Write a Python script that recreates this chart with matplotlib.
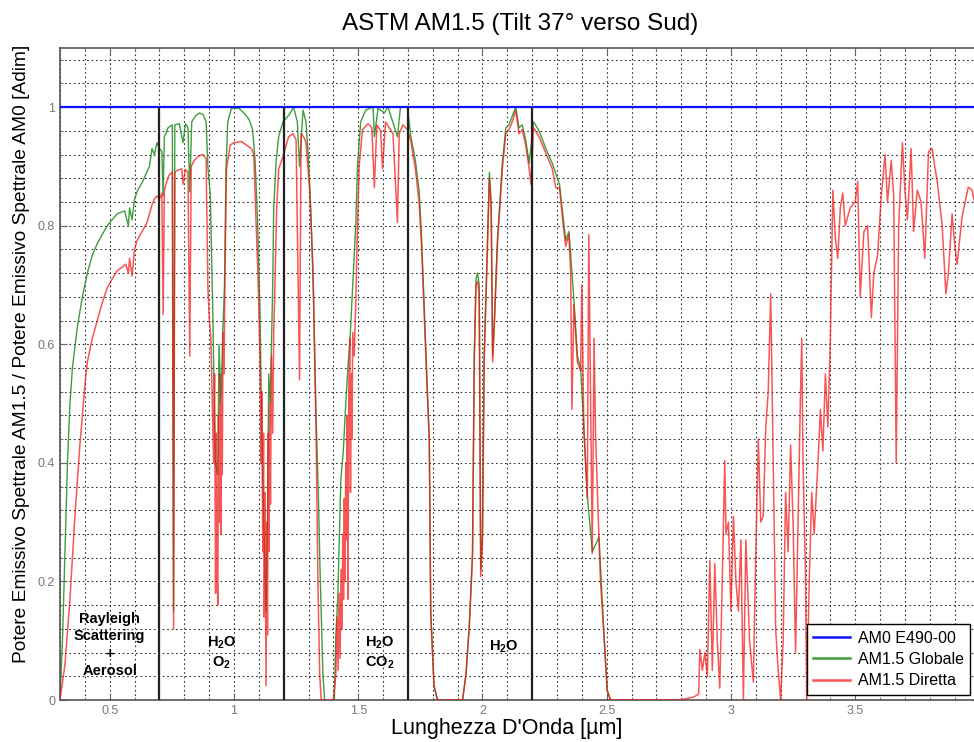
import matplotlib
matplotlib.use("Agg")
import matplotlib.pyplot as plt
from matplotlib.ticker import MultipleLocator

plt.rcParams['font.family'] = ['Liberation Sans', 'DejaVu Sans']
plt.rcParams['mathtext.fontset'] = 'custom'
plt.rcParams['mathtext.rm'] = 'Liberation Sans'
plt.rcParams['mathtext.bf'] = 'Liberation Sans:bold'

# AM1.5 direct / AM0
wl_dir = [0.30, 0.32, 0.34, 0.36, 0.38, 0.40, 0.41, 0.43, 0.45, 0.47, 0.49, 0.51, 0.53, 0.55,
          0.565, 0.575, 0.58, 0.59, 0.60, 0.61, 0.63, 0.65, 0.66, 0.67, 0.68, 0.69, 0.70, 0.71,
          0.715, 0.72, 0.73, 0.74, 0.752, 0.757, 0.762, 0.77, 0.79, 0.795, 0.805, 0.815, 0.822,
          0.828, 0.84, 0.86, 0.875, 0.888, 0.895, 0.90, 0.907,
          0.912, 0.918, 0.922, 0.926, 0.929, 0.932, 0.935, 0.938, 0.941, 0.944, 0.947, 0.950,
          0.953, 0.956, 0.960, 0.964,
          0.97, 0.985, 1.0, 1.03, 1.05, 1.07, 1.08, 1.087, 1.098,
          1.105, 1.109, 1.112, 1.116, 1.119, 1.122, 1.125, 1.129, 1.132, 1.135, 1.138, 1.141,
          1.144, 1.147, 1.151, 1.156, 1.16, 1.165,
          1.172, 1.18, 1.197, 1.22, 1.237, 1.25,
          1.264, 1.27, 1.28, 1.29, 1.304, 1.318, 1.331, 1.338, 1.345, 1.351, 1.40,
          1.41, 1.415, 1.419, 1.423, 1.427, 1.431, 1.435, 1.438, 1.441, 1.444, 1.447, 1.45,
          1.453, 1.456, 1.459, 1.462, 1.466, 1.469, 1.472, 1.475, 1.478, 1.484, 1.49,
          1.497, 1.504,
          1.517, 1.54, 1.555, 1.565, 1.575, 1.59, 1.598, 1.61, 1.625, 1.64, 1.658, 1.665, 1.68,
          1.698, 1.712, 1.73, 1.745, 1.755, 1.773, 1.786, 1.792, 1.805, 1.819, 1.92, 1.934, 1.947,
          1.96, 1.967, 1.974, 1.98, 1.987, 1.993, 2.0, 2.007, 2.02, 2.028, 2.035, 2.041, 2.048,
          2.054, 2.06, 2.08, 2.094, 2.107, 2.12, 2.134, 2.147, 2.16, 2.174, 2.188, 2.195, 2.206,
          2.228, 2.255, 2.281, 2.295, 2.31, 2.324, 2.335, 2.348, 2.355, 2.36, 2.368, 2.382, 2.395,
          2.40, 2.408, 2.422, 2.428, 2.442, 2.449, 2.455, 2.469, 2.475, 2.489, 2.502]
dir_vals = [0.0, 0.06, 0.17, 0.31, 0.43, 0.53, 0.57, 0.61, 0.64, 0.67, 0.695, 0.71, 0.724, 0.73,
            0.735, 0.72, 0.745, 0.715, 0.76, 0.775, 0.79, 0.805, 0.82, 0.835, 0.845, 0.85, 0.845, 0.855,
            0.65, 0.86, 0.875, 0.886, 0.89, 0.12, 0.89, 0.893, 0.896, 0.87, 0.895, 0.89, 0.58,
            0.90, 0.91, 0.918, 0.92, 0.913, 0.70, 0.647, 0.61,
            0.52, 0.40, 0.55, 0.18, 0.45, 0.22, 0.16, 0.48, 0.30, 0.55, 0.28, 0.50,
            0.38, 0.62, 0.55, 0.72,
            0.896, 0.936, 0.94, 0.942, 0.936, 0.93, 0.92, 0.83, 0.70,
            0.57, 0.40, 0.52, 0.25, 0.45, 0.14, 0.35, 0.024, 0.30, 0.11, 0.45, 0.25,
            0.50, 0.33, 0.58, 0.45, 0.62, 0.70,
            0.83, 0.896, 0.916, 0.95, 0.955, 0.945,
            0.54, 0.955, 0.95, 0.94, 0.864, 0.73, 0.44, 0.195, 0.044, 0.0, 0.0,
            0.044, 0.14, 0.05, 0.18, 0.07, 0.22, 0.12, 0.28, 0.17, 0.34, 0.20, 0.40,
            0.27, 0.48, 0.17, 0.52, 0.61, 0.35, 0.55, 0.44, 0.62, 0.58, 0.667,
            0.80, 0.90,
            0.962, 0.972, 0.965, 0.864, 0.97, 0.96, 0.896, 0.975, 0.965, 0.955, 0.805, 0.955, 0.97,
            0.962, 0.942, 0.896, 0.84, 0.765, 0.57, 0.437, 0.142, 0.024, 0.0, 0.0, 0.044, 0.123,
            0.24, 0.57, 0.70, 0.706, 0.686, 0.208, 0.27, 0.57, 0.765, 0.88, 0.83, 0.57, 0.634,
            0.70, 0.765, 0.896, 0.955, 0.962, 0.975, 0.995, 0.955, 0.962, 0.936, 0.896, 0.87, 0.965,
            0.95, 0.922, 0.896, 0.864, 0.864, 0.805, 0.765, 0.785, 0.72, 0.49, 0.667, 0.57, 0.555,
            0.70, 0.457, 0.34, 0.785, 0.247, 0.61, 0.45, 0.27, 0.20, 0.11, 0.016]

# AM1.5 global / AM0
wl_glo = [0.30, 0.31, 0.32, 0.33, 0.34, 0.35, 0.37, 0.39, 0.41, 0.43, 0.45, 0.47, 0.49, 0.51,
          0.53, 0.56, 0.575, 0.58, 0.59, 0.60, 0.613, 0.633, 0.66, 0.67, 0.68, 0.69, 0.70, 0.71,
          0.715, 0.72, 0.735, 0.752, 0.757, 0.762, 0.78, 0.795, 0.805, 0.815, 0.822, 0.83, 0.845,
          0.86, 0.875, 0.888, 0.895, 0.905, 0.915, 0.925, 0.935, 0.94, 0.948, 0.955, 0.962, 0.968,
          0.975, 0.99, 1.02, 1.04, 1.06, 1.075, 1.085, 1.095, 1.105, 1.112, 1.12, 1.129, 1.135,
          1.14, 1.146, 1.156, 1.16, 1.17, 1.18, 1.197, 1.224, 1.24, 1.255, 1.264, 1.278, 1.29,
          1.30, 1.31, 1.32, 1.331, 1.34, 1.347, 1.358, 1.365, 1.404, 1.41, 1.418, 1.43, 1.44,
          1.45, 1.46, 1.466, 1.478, 1.49, 1.497, 1.51, 1.53, 1.56, 1.565, 1.58, 1.605, 1.62,
          1.658, 1.67, 1.698, 1.712, 1.73, 1.745, 1.755, 1.773, 1.786, 1.792, 1.805, 1.819, 1.92,
          1.934, 1.947, 1.96, 1.967, 1.974, 1.98, 1.987, 1.993, 2.0, 2.007, 2.02, 2.028, 2.035,
          2.041, 2.048, 2.054, 2.06, 2.08, 2.094, 2.107, 2.12, 2.134, 2.147, 2.16, 2.174, 2.188,
          2.206, 2.228, 2.255, 2.281, 2.31, 2.335, 2.348, 2.368, 2.382, 2.395, 2.408, 2.422,
          2.442, 2.469, 2.489, 2.502, 2.515]
glo_vals = [0.0, 0.10, 0.25, 0.40, 0.50, 0.56, 0.63, 0.68, 0.72, 0.75, 0.77, 0.785, 0.80, 0.81,
            0.82, 0.825, 0.80, 0.83, 0.81, 0.845, 0.86, 0.875, 0.90, 0.93, 0.92, 0.94, 0.93, 0.925,
            0.85, 0.95, 0.965, 0.97, 0.15, 0.97, 0.972, 0.94, 0.972, 0.965, 0.857, 0.975, 0.985,
            0.99, 0.988, 0.975, 0.90, 0.85, 0.65, 0.40, 0.38, 0.60, 0.50, 0.62, 0.70, 0.896,
            0.975, 0.998, 0.998, 0.99, 0.98, 0.962, 0.91, 0.81, 0.65, 0.45, 0.30, 0.15, 0.30,
            0.55, 0.50, 0.70, 0.83, 0.91, 0.95, 0.975, 0.988, 1.0, 0.975, 0.90, 0.995, 0.975,
            0.91, 0.82, 0.68, 0.47, 0.34, 0.21, 0.044, 0.0, 0.0, 0.11, 0.175, 0.37, 0.42,
            0.50, 0.57, 0.60, 0.70, 0.80, 0.90, 0.975, 0.995, 1.0, 0.95, 0.998, 0.99, 1.0,
            0.95, 1.0, 1.0, 0.95, 0.91, 0.86, 0.78, 0.58, 0.44, 0.15, 0.025, 0.0, 0.0,
            0.045, 0.125, 0.25, 0.58, 0.71, 0.72, 0.70, 0.22, 0.28, 0.58, 0.775, 0.89, 0.84,
            0.58, 0.64, 0.71, 0.775, 0.905, 0.965, 0.97, 0.985, 1.0, 0.965, 0.97, 0.945, 0.905,
            0.975, 0.96, 0.93, 0.905, 0.87, 0.775, 0.79, 0.675, 0.58, 0.56, 0.46, 0.345,
            0.25, 0.275, 0.11, 0.016, 0.0]

# infrared part, where direct and global coincide (only the direct one shows)
wl_ir = [2.515, 2.70, 2.79, 2.85, 2.87, 2.875, 2.885, 2.895, 2.905, 2.915, 2.925, 2.935, 2.945,
         2.955, 2.965, 2.975, 2.98, 2.99, 3.0, 3.01, 3.02, 3.03, 3.04, 3.05, 3.06, 3.075, 3.09,
         3.10, 3.11, 3.12, 3.13, 3.14, 3.15, 3.16, 3.17, 3.18, 3.19, 3.20, 3.21, 3.22, 3.23, 3.24,
         3.25, 3.26, 3.27, 3.28, 3.285, 3.29, 3.30, 3.305, 3.315, 3.325, 3.335, 3.35, 3.36, 3.37,
         3.38, 3.39, 3.40, 3.41, 3.42, 3.43, 3.44, 3.45, 3.46, 3.48, 3.50, 3.51, 3.52, 3.535,
         3.55, 3.565, 3.575, 3.59, 3.605, 3.62, 3.63, 3.645, 3.655, 3.665, 3.675, 3.69, 3.70,
         3.71, 3.725, 3.735, 3.75, 3.765, 3.78, 3.795, 3.81, 3.82, 3.83, 3.85, 3.865, 3.875,
         3.89, 3.90, 3.91, 3.93, 3.955, 3.97, 3.98, 4.0]
ir_vals = [0.0, 0.0, 0.0, 0.005, 0.01, 0.085, 0.05, 0.08, 0.04, 0.235, 0.05, 0.23, 0.10,
           0.02, 0.20, 0.404, 0.28, 0.30, 0.15, 0.31, 0.20, 0.15, 0.27, 0.0, 0.27, 0.10, 0.03,
           0.25, 0.44, 0.30, 0.31, 0.46, 0.52, 0.685, 0.40, 0.12, 0.05, 0.0, 0.10, 0.35, 0.25, 0.43,
           0.30, 0.08, 0.30, 0.52, 0.61, 0.40, 0.21, 0.0, 0.20, 0.35, 0.28, 0.40, 0.49, 0.42,
           0.55, 0.46, 0.61, 0.86, 0.78, 0.745, 0.83, 0.855, 0.80, 0.83, 0.84, 0.875, 0.68, 0.79,
           0.80, 0.645, 0.72, 0.75, 0.85, 0.92, 0.84, 0.91, 0.85, 0.40, 0.80, 0.94, 0.86,
           0.81, 0.93, 0.79, 0.86, 0.84, 0.745, 0.925, 0.93, 0.90, 0.875, 0.80, 0.685, 0.72,
           0.82, 0.77, 0.735, 0.815, 0.865, 0.86, 0.84, 0.83]

band_edges = [0.7, 1.2, 1.7, 2.2]
band_labels = [(0.5, 0.093, 'Rayleigh\nScattering\n+\nAerosol'),
               (0.95, 0.08, r'$\mathbf{H_2O}$' + '\n' + r'$\mathbf{O_2}$'),
               (1.585, 0.08, r'$\mathbf{H_2O}$' + '\n' + r'$\mathbf{CO_2}$'),
               (2.085, 0.09, r'$\mathbf{H_2O}$')]

fig = plt.figure(figsize=(9.74, 7.42), dpi=100)
ax = fig.add_axes([0.0616, 0.0566, 0.944, 0.879])

ax.axhline(1.0, color='#1010ff', lw=1.6, label='AM0 E490-00', zorder=4)
ax.plot(wl_glo, glo_vals, color='#1e8c1e', lw=1.0, alpha=0.85,
        label='AM1.5 Globale', zorder=2)
ax.plot(wl_dir + wl_ir, dir_vals + ir_vals, color='#f51515', lw=1.1, alpha=0.72,
        label='AM1.5 Diretta', zorder=3)
ax.vlines(band_edges, 0, 1, colors='#222222', lw=1.6, zorder=5)

for x, y, s in band_labels:
    ax.text(x, y, s, ha='center', va='center', fontsize=10.5, fontweight='bold',
            linespacing=1.3, zorder=6)

ax.set_xlim(0.3, 4.0)
ax.set_ylim(0, 1.1)
ax.xaxis.set_minor_locator(MultipleLocator(0.1))
ax.yaxis.set_minor_locator(MultipleLocator(0.04))
ax.set_xticks([0.5, 1, 1.5, 2, 2.5, 3, 3.5])
ax.set_xticklabels(['0.5', '1', '1.5', '2', '2.5', '3', '3.5'])
ax.set_yticks([0, 0.2, 0.4, 0.6, 0.8, 1.0])
ax.set_yticklabels(['0', '0.2', '0.4', '0.6', '0.8', '1'])
ax.grid(True, which='both', ls=(0, (1.5, 2.5)), color='#333333', lw=0.8)
ax.tick_params(which='both', direction='in', top=True, right=True, colors='#666666',
               labelsize=9, labelcolor='#777777')
ax.tick_params(which='major', length=5)
ax.tick_params(which='minor', length=2.5)
for sp in ax.spines.values():
    sp.set_color('#555555')
    sp.set_linewidth(1.2)

ax.set_title('ASTM AM1.5 (Tilt 37° verso Sud)', fontsize=17.5, pad=13)
ax.set_xlabel("Lunghezza D'Onda [µm]", fontsize=15.5, labelpad=2)
ax.xaxis.set_label_coords(0.486, -0.028)
ax.set_ylabel('Potere Emissivo Spettrale AM1.5 / Potere Emissivo Spettrale AM0 [Adim]',
              fontsize=13.8)
ax.yaxis.set_label_coords(-0.033, 0.53)

leg = ax.legend(loc='lower right', bbox_to_anchor=(0.99, 0.008), borderaxespad=0,
                fontsize=11.5, fancybox=False, edgecolor='black', framealpha=1,
                handlelength=2.3, handletextpad=0.5, borderpad=0.4, labelspacing=0.4)
leg.get_frame().set_linewidth(1.0)
for line in leg.get_lines():
    line.set_linewidth(1.8)

fig.savefig('out.png', dpi=100)
